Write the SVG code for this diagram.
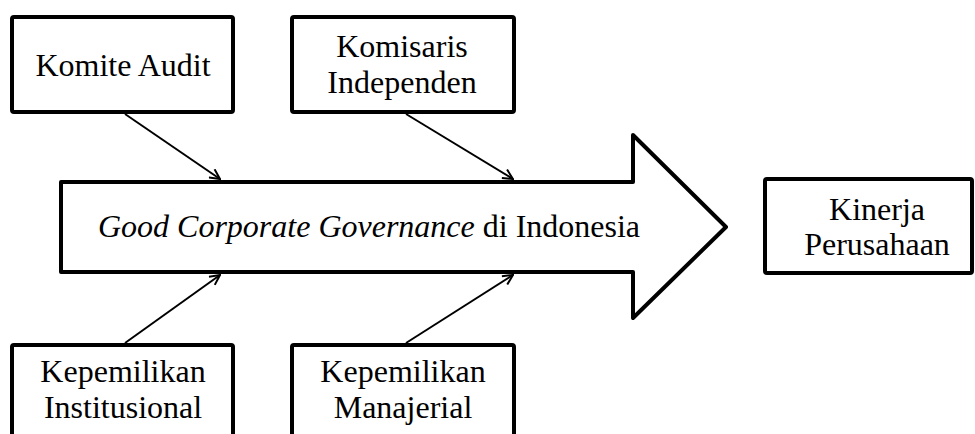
<svg xmlns="http://www.w3.org/2000/svg" width="975" height="434" viewBox="0 0 975 434">
<style>
.box{fill:#fff;stroke:#000;stroke-width:4;stroke-linejoin:round}
.t{font-family:"Liberation Serif","Times New Roman",serif;font-size:32px;fill:#000;text-anchor:middle}
.c{stroke:#000;stroke-width:2;fill:none}
</style>
<defs>
<marker id="ah" viewBox="0 0 12 12" refX="11" refY="6" markerWidth="12" markerHeight="12" markerUnits="userSpaceOnUse" orient="auto">
<path d="M1,1 L11,6 L1,11" fill="none" stroke="#000" stroke-width="2"/>
</marker>
</defs>
<rect width="975" height="434" fill="#fff"/>
<g id="gcg">
<polygon class="box" points="61,182 633,182 633,135 726,227 633,318 633,272 61,272"/>
<text class="t" x="369" y="237"><tspan font-style="italic">Good Corporate Governance</tspan> di Indonesia</text>
</g>
<g id="komite-audit">
<rect class="box" x="12" y="17" width="221" height="95" rx="2"/>
<text class="t" x="123" y="76">Komite Audit</text>
</g>
<g id="komisaris-independen">
<rect class="box" x="292" y="17" width="222" height="95" rx="2"/>
<text class="t" x="402" y="57">Komisaris</text>
<text class="t" x="402" y="93">Independen</text>
</g>
<g id="kepemilikan-institusional">
<rect class="box" x="12" y="345" width="221" height="100" rx="2"/>
<text class="t" x="123" y="382">Kepemilikan</text>
<text class="t" x="123" y="418">Institusional</text>
</g>
<g id="kepemilikan-manajerial">
<rect class="box" x="292" y="345" width="222" height="100" rx="2"/>
<text class="t" x="403" y="382">Kepemilikan</text>
<text class="t" x="403" y="418">Manajerial</text>
</g>
<g id="kinerja-perusahaan">
<rect class="box" x="765" y="179" width="207" height="94" rx="2"/>
<text class="t" x="877" y="220">Kinerja</text>
<text class="t" x="877" y="255">Perusahaan</text>
</g>
<g id="connectors">
<line class="c" x1="125" y1="114" x2="220" y2="179" marker-end="url(#ah)"/>
<line class="c" x1="406" y1="114" x2="513" y2="179" marker-end="url(#ah)"/>
<line class="c" x1="125" y1="343" x2="220" y2="275" marker-end="url(#ah)"/>
<line class="c" x1="406" y1="343" x2="513" y2="275" marker-end="url(#ah)"/>
</g>
</svg>
